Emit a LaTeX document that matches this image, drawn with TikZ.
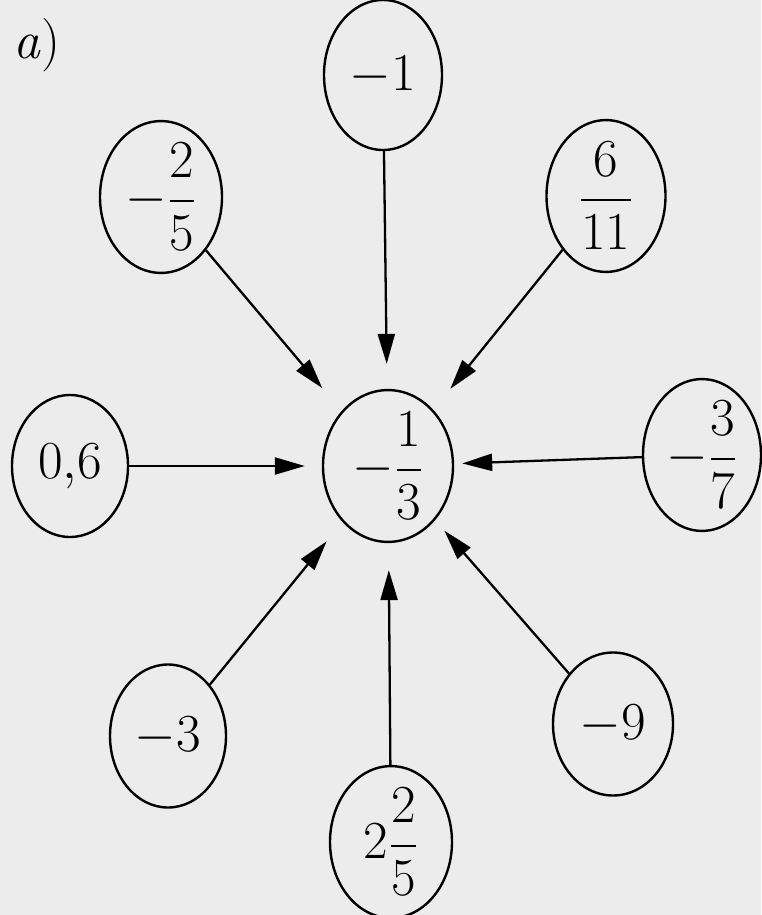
\documentclass[tikz,border=0pt]{standalone}
\usepackage{amsmath}
\usepackage{graphicx}
\usetikzlibrary{shapes.geometric,arrows.meta}
\definecolor{bgc}{RGB}{236,236,236}
\newcommand{\bigtxt}[1]{\scalebox{2.15}{\Huge #1}}
\begin{document}
\begin{tikzpicture}[x=1pt,y=-1pt,
  num/.style={ellipse,draw=black,line width=2.4pt,inner sep=0pt,
    minimum width=118pt,minimum height=143pt},
  arr/.style={line width=2.3pt,-{Triangle[length=30pt,width=17pt]}}]
\fill[bgc] (0,0) rectangle (761,915);
\useasboundingbox (0,0) rectangle (761,915);
\node[anchor=center] (lab) at (37,45) {\bigtxt{\textit{a})}};
\node[num,minimum width=130pt,minimum height=147pt] (c) at (388,466) {\bigtxt{$-\dfrac{1}{3}$}};
\node[num,minimum height=150pt] (n1) at (383,75) {\bigtxt{$-1$}};
\node[num,minimum width=122pt,minimum height=145pt] (n2) at (161,197) {\bigtxt{$-\dfrac{2}{5}$}};
\node[num,minimum width=119pt,minimum height=137pt] (n3) at (606,196) {\bigtxt{$\dfrac{6}{11}$}};
\node[num,minimum width=116pt,minimum height=142pt] (n4) at (70,466) {\bigtxt{$0{,}6$}};
\node[num,minimum width=118pt,minimum height=144pt] (n5) at (702,455) {\bigtxt{$-\dfrac{3}{7}$}};
\node[num,minimum width=116pt] (n6) at (168,736) {\bigtxt{$-3$}};
\node[num,minimum width=120pt] (n7) at (613,724) {\bigtxt{$-9$}};
\node[num,minimum width=122pt,minimum height=145pt] (n8) at (391,842) {\bigtxt{$2\dfrac{2}{5}$}};
\draw[arr,shorten >=25pt] (n1) -- (c);
\draw[arr,shorten >=30pt] (n2) -- (c);
\draw[arr,shorten >=27pt] (n3) -- (c);
\draw[arr,shorten >=17pt] (n4) -- (c);
\draw[arr,shorten >=8pt] (n5) -- (c);
\draw[arr,shorten >=25pt] (n6) -- (c);
\draw[arr,shorten >=14pt] (n7) -- (c);
\draw[arr,shorten >=27pt] (n8) -- (c);
\end{tikzpicture}
\end{document}
